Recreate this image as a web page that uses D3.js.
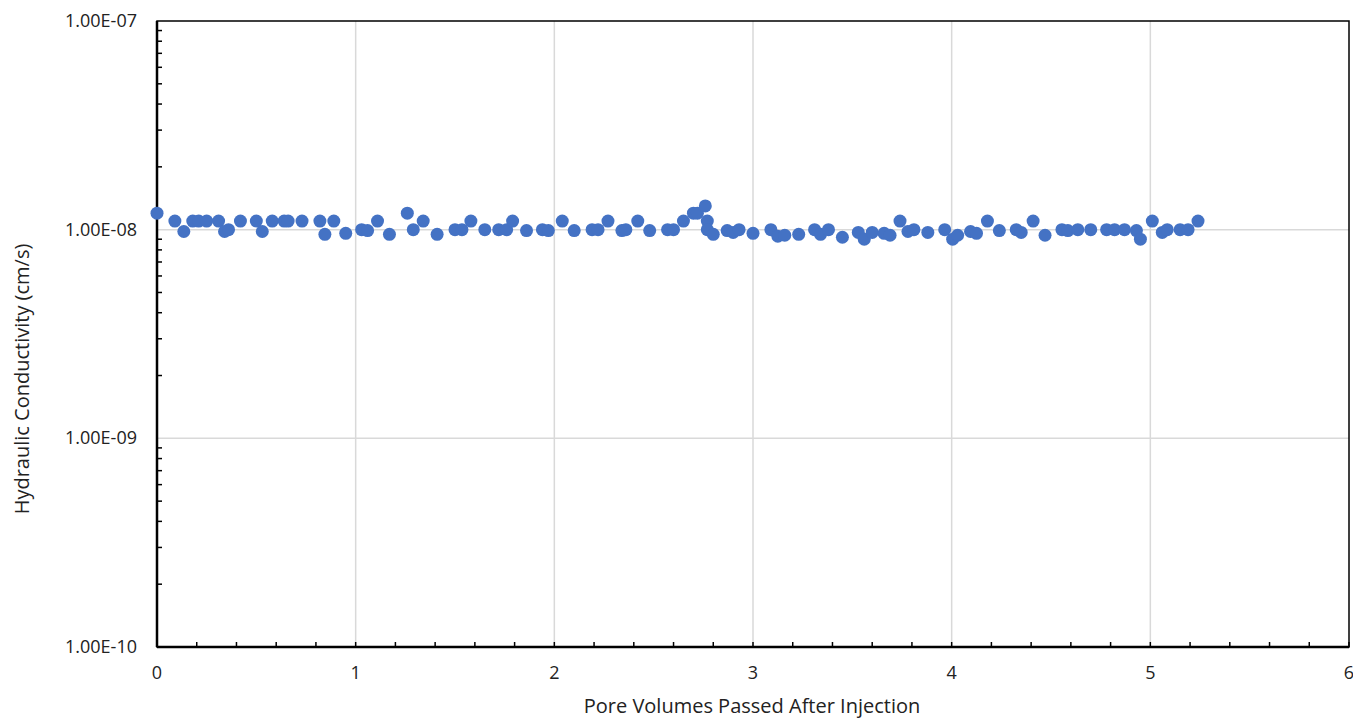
<!DOCTYPE html>
<html>
<head>
<meta charset="utf-8">
<script src="https://cdn.jsdelivr.net/npm/d3@7"></script>
<style>
  body { margin: 0; background: #fff; }
  svg { display: block; font-family: "Open Sans", sans-serif; }
</style>
</head>
<body>
<svg id="chart" width="1353" height="723"></svg>
<script>
// pore volumes passed (x) and hydraulic conductivity in units of 1e-8 cm/s
const poreVolumes = [
  0.00, 0.09, 0.135, 0.18, 0.21, 0.25, 0.31, 0.34, 0.36, 0.42,
  0.50, 0.53, 0.58, 0.64, 0.66, 0.73, 0.82, 0.845, 0.89, 0.95,
  1.03, 1.06, 1.11, 1.17, 1.26, 1.29, 1.34, 1.41, 1.50, 1.535,
  1.58, 1.65, 1.72, 1.76, 1.79, 1.86, 1.94, 1.97, 2.04, 2.10,
  2.19, 2.22, 2.27, 2.34, 2.36, 2.42, 2.48, 2.57, 2.60, 2.65,
  2.70, 2.72, 2.76, 2.77, 2.77, 2.80, 2.87, 2.90, 2.93, 3.00,
  3.09, 3.125, 3.16, 3.23, 3.31, 3.34, 3.38, 3.45, 3.53, 3.56,
  3.60, 3.66, 3.69, 3.74, 3.78, 3.81, 3.88, 3.965, 4.005, 4.03,
  4.095, 4.125, 4.18, 4.24, 4.325, 4.35, 4.41, 4.47, 4.555, 4.585,
  4.635, 4.70, 4.78, 4.82, 4.87, 4.93, 4.95, 5.01, 5.06, 5.085,
  5.15, 5.19, 5.24
];
const conductivity = [
  1.2, 1.1, 0.98, 1.1, 1.1, 1.1, 1.1, 0.98, 1.0, 1.1,
  1.1, 0.98, 1.1, 1.1, 1.1, 1.1, 1.1, 0.95, 1.1, 0.96,
  1.0, 0.99, 1.1, 0.95, 1.2, 1.0, 1.1, 0.95, 1.0, 1.0,
  1.1, 1.0, 1.0, 1.0, 1.1, 0.99, 1.0, 0.99, 1.1, 0.99,
  1.0, 1.0, 1.1, 0.99, 1.0, 1.1, 0.99, 1.0, 1.0, 1.1,
  1.2, 1.2, 1.3, 1.1, 1.0, 0.95, 0.99, 0.97, 1.0, 0.96,
  1.0, 0.93, 0.94, 0.95, 1.0, 0.95, 1.0, 0.92, 0.97, 0.9,
  0.97, 0.96, 0.94, 1.1, 0.98, 1.0, 0.97, 1.0, 0.9, 0.94,
  0.98, 0.96, 1.1, 0.99, 1.0, 0.97, 1.1, 0.94, 1.0, 0.99,
  1.0, 1.0, 1.0, 1.0, 1.0, 0.99, 0.9, 1.1, 0.97, 1.0,
  1.0, 1.0, 1.1
];
const xTicks = [0, 1, 2, 3, 4, 5, 6];
const yTicks = [1e-10, 1e-9, 1e-8, 1e-7];

const data = poreVolumes.map((x, i) => ({ x: x, k: conductivity[i] * 1e-8 }));

const margin = { left: 157, top: 21, right: 1349, bottom: 647 };
const svg = d3.select("#chart");

const x = d3.scaleLinear().domain([0, 6]).range([margin.left, margin.right]);
const y = d3.scaleLog().domain([1e-10, 1e-7]).range([margin.bottom, margin.top]);

// gridlines
svg.append("g")
  .selectAll("line")
  .data(xTicks.slice(1, -1))
  .join("line")
  .attr("x1", d => x(d)).attr("x2", d => x(d))
  .attr("y1", margin.top).attr("y2", margin.bottom)
  .attr("stroke", "#d9d9d9").attr("stroke-width", 1.5);

svg.append("g")
  .selectAll("line")
  .data(yTicks.slice(1, -1))
  .join("line")
  .attr("x1", margin.left).attr("x2", margin.right)
  .attr("y1", d => y(d)).attr("y2", d => y(d))
  .attr("stroke", "#d9d9d9").attr("stroke-width", 1.5);

// minor ticks (inside)
const xMinor = d3.range(0, 6.001, 0.2);
svg.append("g")
  .selectAll("line")
  .data(xMinor)
  .join("line")
  .attr("x1", d => x(d)).attr("x2", d => x(d))
  .attr("y1", margin.bottom).attr("y2", margin.bottom - 5)
  .attr("stroke", "#000").attr("stroke-width", 1.5);

const yMinor = [];
[1e-10, 1e-9, 1e-8].forEach(dec => {
  for (let m = 2; m <= 9; m++) yMinor.push(dec * m);
});
svg.append("g")
  .selectAll("line")
  .data(yMinor)
  .join("line")
  .attr("x1", margin.left).attr("x2", margin.left + 5)
  .attr("y1", d => y(d)).attr("y2", d => y(d))
  .attr("stroke", "#000").attr("stroke-width", 1.5);

// frame
svg.append("rect")
  .attr("x", margin.left).attr("y", margin.top)
  .attr("width", margin.right - margin.left)
  .attr("height", margin.bottom - margin.top)
  .attr("fill", "none").attr("stroke", "#000").attr("stroke-width", 1.5);
svg.append("line")
  .attr("x1", margin.left).attr("x2", margin.left)
  .attr("y1", margin.top).attr("y2", margin.bottom)
  .attr("stroke", "#000").attr("stroke-width", 2.5);
svg.append("line")
  .attr("x1", margin.left).attr("x2", margin.right)
  .attr("y1", margin.bottom).attr("y2", margin.bottom)
  .attr("stroke", "#000").attr("stroke-width", 2.5);

// tick labels
svg.append("g")
  .selectAll("text")
  .data(xTicks)
  .join("text")
  .attr("x", d => x(d))
  .attr("y", margin.bottom + 32)
  .attr("text-anchor", "middle")
  .attr("font-size", 18)
  .attr("fill", "#222")
  .text(d => d);

svg.append("g")
  .selectAll("text")
  .data(yTicks)
  .join("text")
  .attr("x", 137)
  .attr("y", d => y(d) + 6)
  .attr("text-anchor", "end")
  .attr("font-size", 18)
  .attr("fill", "#222")
  .text(d => "1.00E-" + String(-Math.round(Math.log10(d))).padStart(2, "0"));

// axis titles
svg.append("text")
  .attr("x", 752)
  .attr("y", 713)
  .attr("text-anchor", "middle")
  .attr("font-size", 20)
  .attr("fill", "#222")
  .text("Pore Volumes Passed After Injection");

svg.append("text")
  .attr("transform", "translate(29, 379) rotate(-90)")
  .attr("text-anchor", "middle")
  .attr("font-size", 20)
  .attr("fill", "#222")
  .text("Hydraulic Conductivity (cm/s)");

// points
svg.append("g")
  .selectAll("circle")
  .data(data)
  .join("circle")
  .attr("cx", d => x(d.x))
  .attr("cy", d => y(d.k))
  .attr("r", 6.5)
  .attr("fill", "#4472C4");
</script>
</body>
</html>
